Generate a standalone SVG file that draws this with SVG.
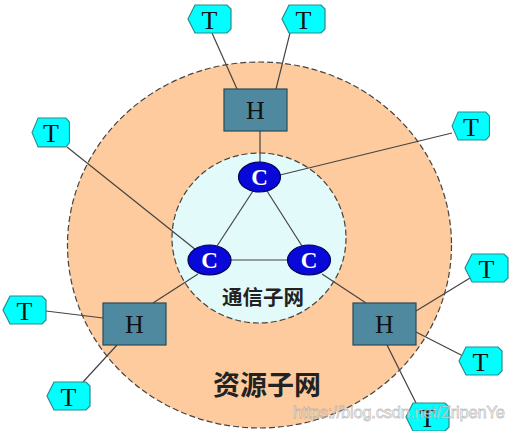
<svg xmlns="http://www.w3.org/2000/svg" xmlns:xlink="http://www.w3.org/1999/xlink" width="514" height="431" viewBox="0 0 514 431">
<style>
.ln{stroke:#444;stroke-width:1.2;fill:none}
.hex{fill:#00FFFF;stroke:#2A8C8C;stroke-width:1.2}
.hbox{fill:#4F89A0;stroke:#2A4A58;stroke-width:1.2}
.cnode{fill:#0808D8;stroke:#00005A;stroke-width:1.2}
.tl{font-family:"Liberation Serif","Times New Roman",serif;font-size:26px;fill:#111;text-anchor:middle}
.hl{font-family:"Liberation Serif","Times New Roman",serif;font-size:26px;fill:#111;text-anchor:middle}
.cl{font-family:"Liberation Serif","Times New Roman",serif;font-size:23px;font-weight:bold;fill:#fff;text-anchor:middle}
.zh{font-family:"Noto Sans CJK SC","Noto Sans CJK TC",sans-serif;font-weight:bold;fill:#222;text-anchor:middle}
</style>
<defs>
<path id="hexp" d="M0,14 L7,0 L39,0 L43,4 L43,24 L39,28 L7,28 Z"/>
</defs>
<rect width="514" height="431" fill="#fff"/>
<g id="resource-net">
<ellipse cx="259.5" cy="245" rx="192" ry="183" fill="#FDCB9D" stroke="#444" stroke-width="1.2" stroke-dasharray="6,3"/>
</g>
<g id="comm-net">
<ellipse cx="259" cy="238" rx="87" ry="85" fill="#E2FAFA" stroke="#444" stroke-width="1.2" stroke-dasharray="6,3"/>
</g>
<g id="connectors">
<line class="ln" x1="212" y1="33" x2="237" y2="89"/>
<line class="ln" x1="290" y1="33" x2="276" y2="89"/>
<line class="ln" x1="260" y1="131" x2="260" y2="162"/>
<line class="ln" x1="67" y1="147" x2="196" y2="250"/>
<line class="ln" x1="452" y1="133" x2="280" y2="175"/>
<line class="ln" x1="253" y1="191" x2="217" y2="246"/>
<line class="ln" x1="267" y1="191" x2="302" y2="246"/>
<line class="ln" x1="230" y1="260" x2="289" y2="260"/>
<line class="ln" x1="198" y1="274" x2="153" y2="303"/>
<line class="ln" x1="322" y1="274" x2="366" y2="303"/>
<line class="ln" x1="103" y1="318" x2="46" y2="311"/>
<line class="ln" x1="117" y1="345" x2="83" y2="382"/>
<line class="ln" x1="416" y1="311" x2="470" y2="278"/>
<line class="ln" x1="416" y1="332" x2="463" y2="356"/>
<line class="ln" x1="387" y1="345" x2="416" y2="403"/>
</g>
<g id="H1"><rect class="hbox" x="224" y="89" width="63" height="42"/><text class="hl" x="255.5" y="119">H</text></g>
<g id="H2"><rect class="hbox" x="103" y="303" width="63" height="42"/><text class="hl" x="134.5" y="333">H</text></g>
<g id="H3"><rect class="hbox" x="353" y="303" width="63" height="42"/><text class="hl" x="384.5" y="333">H</text></g>
<g id="C1"><ellipse class="cnode" cx="259.5" cy="177" rx="21" ry="15"/><text class="cl" x="259.5" y="185">C</text></g>
<g id="C2"><ellipse class="cnode" cx="209.5" cy="260" rx="21.5" ry="15"/><text class="cl" x="209.5" y="268">C</text></g>
<g id="C3"><ellipse class="cnode" cx="309" cy="260" rx="21.5" ry="15"/><text class="cl" x="309" y="268">C</text></g>
<g id="T1" transform="translate(188,5)"><use href="#hexp" xlink:href="#hexp" class="hex"/><text class="tl" x="21.5" y="24">T</text></g>
<g id="T2" transform="translate(282,5)"><use href="#hexp" xlink:href="#hexp" class="hex"/><text class="tl" x="21.5" y="24">T</text></g>
<g id="T3" transform="translate(32,118)"><use href="#hexp" xlink:href="#hexp" class="hex" transform="scale(0.87,1.03)"/><text class="tl" x="19" y="24">T</text></g>
<g id="T4" transform="translate(452,112)"><use href="#hexp" xlink:href="#hexp" class="hex" transform="scale(0.87,1.0)"/><text class="tl" x="19" y="24">T</text></g>
<g id="T5" transform="translate(3,296)"><use href="#hexp" xlink:href="#hexp" class="hex"/><text class="tl" x="21.5" y="24">T</text></g>
<g id="T6" transform="translate(47,382)"><use href="#hexp" xlink:href="#hexp" class="hex"/><text class="tl" x="21.5" y="24">T</text></g>
<g id="T7" transform="translate(465,254)"><use href="#hexp" xlink:href="#hexp" class="hex"/><text class="tl" x="21.5" y="24">T</text></g>
<g id="T8" transform="translate(459,347)"><use href="#hexp" xlink:href="#hexp" class="hex"/><text class="tl" x="21.5" y="24">T</text></g>
<g id="T9" transform="translate(406,403)"><use href="#hexp" xlink:href="#hexp" class="hex"/><text class="tl" x="21.5" y="24">T</text></g>
<g id="labels">
<text class="zh" x="263" y="305" font-size="20.5">通信子网</text>
<text class="zh" x="267" y="395" font-size="27">资源子网</text>
</g>
<text x="293" y="418" font-family="Liberation Sans, Arial, sans-serif" font-size="16.5" textLength="212" fill="#fff" fill-opacity="0.6" stroke="#999" stroke-opacity="0.6" stroke-width="0.8">https://blog.csdn.net/ZripenYe</text>
</svg>
